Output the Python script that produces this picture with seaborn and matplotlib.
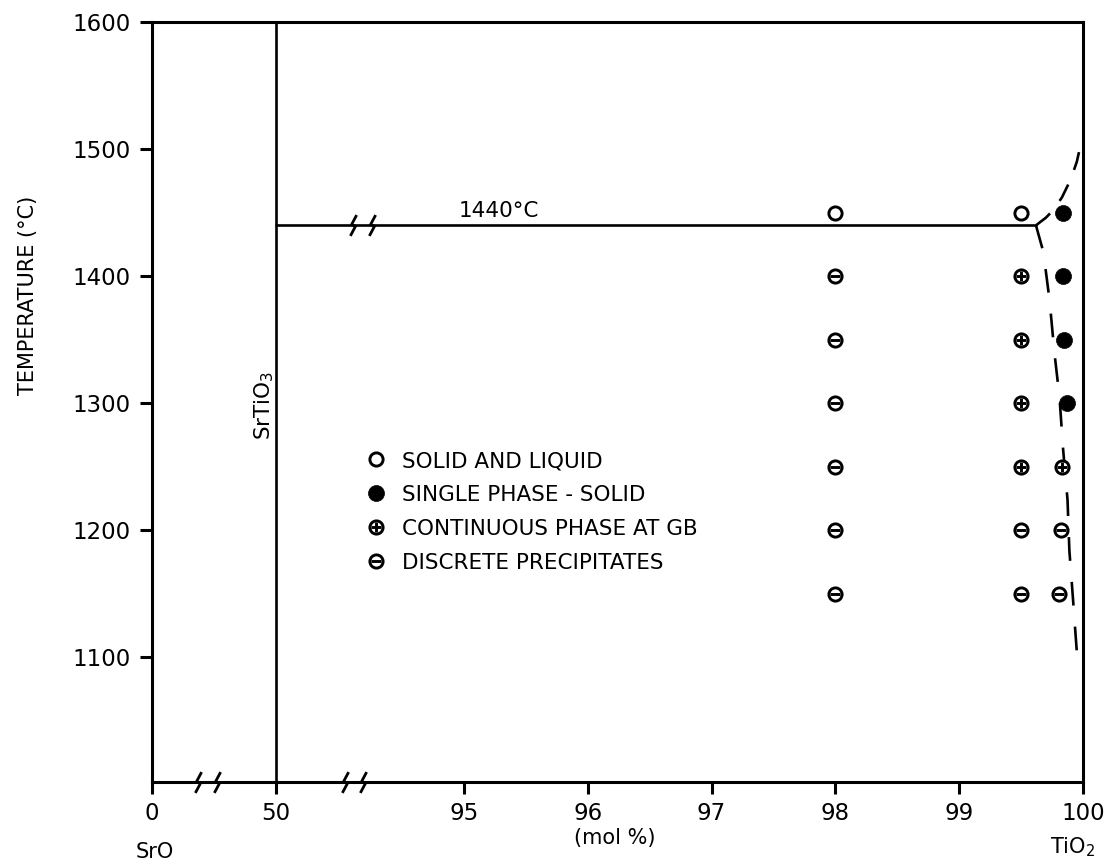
import numpy as np
import pandas as pd
import matplotlib
matplotlib.use("Agg")
import matplotlib.pyplot as plt
import seaborn as sns
from matplotlib.lines import Line2D
from matplotlib.path import Path
from matplotlib.legend_handler import HandlerTuple

# ---------------- data ----------------
# open circles: solid and liquid
sl_x = [98.0, 99.5]
sl_y = [1450, 1450]
# filled circles: single phase - solid
sp_x = [99.84, 99.84, 99.85, 99.87]
sp_y = [1450, 1400, 1350, 1300]
# circle-plus: continuous phase at GB
cp_x = [99.5, 99.5, 99.5, 99.5, 99.83]
cp_y = [1400, 1350, 1300, 1250, 1250]
# circle-minus: discrete precipitates
dp_x = [98.0, 98.0, 98.0, 98.0, 98.0, 98.0, 99.5, 99.5, 99.82, 99.81]
dp_y = [1400, 1350, 1300, 1250, 1200, 1150, 1200, 1150, 1200, 1150]

# eutectic line and phase boundaries
eutectic_T = 1440
eut_x = [50.0, 99.62]
srtio3_x = 50.0
upper_bx = [99.62, 99.70, 99.76, 99.83, 99.90, 99.95, 99.98]
upper_by = [1440, 1446, 1452, 1462, 1476, 1490, 1503]
lower_bx = [99.62, 99.68, 99.73, 99.77, 99.81, 99.84, 99.875, 99.89, 99.92, 99.96]
lower_by = [1440, 1419, 1381, 1339, 1305, 1263, 1224, 1184, 1145, 1091]

x_ticks = [0, 50, 95, 96, 97, 98, 99, 100]
y_ticks = [1100, 1200, 1300, 1400, 1500, 1600]
axis_breaks_x = [18.6, 26.3, 66.6, 70.9]
line_breaks_x = [68.5, 73.1]

legend_labels = ["SOLID AND LIQUID", "SINGLE PHASE - SOLID",
                 "CONTINUOUS PHASE AT GB", "DISCRETE PRECIPITATES"]

# ---------------- style ----------------
sns.set_theme(style="white")
plt.rcParams["font.family"] = ["DejaVu Sans"]
plt.rcParams["mathtext.fontset"] = "dejavusans"

W, H = 1111, 866
fig = plt.figure(figsize=(W / 100, H / 100), dpi=100)
L, R, T, B = 152, 1083, 22, 782
ax = fig.add_axes([L / W, 1 - B / H, (R - L) / W, (B - T) / H])

# broken x scale (piecewise linear)
BP = np.array([0.0, 50.0, 95.0, 100.0])
UP = np.array([0.0, 1.0, 2.52, 7.52])
def fwd(x):
    return np.interp(x, BP, UP)
def inv(u):
    return np.interp(u, UP, BP)
ax.set_xscale("function", functions=(fwd, inv))
ax.set_xlim(0, 100)
ax.set_ylim(1002, 1600)

K = "black"
LW = 1.9

# phase lines
ax.plot([srtio3_x, srtio3_x], [1002, 1600], color=K, lw=LW, solid_capstyle="butt")
ax.plot(eut_x, [eutectic_T, eutectic_T], color=K, lw=LW)
ax.plot(upper_bx, upper_by, color=K, lw=LW, linestyle=(0, (7, 6)))
ax.plot(lower_bx, lower_by, color=K, lw=LW, linestyle=(0, (9, 8)))

# break marks (lightning-like zigzag)
brk = Path([(0.30, 1.0), (-0.20, 0.06), (0.20, -0.06), (-0.30, -1.0)],
           [Path.MOVETO, Path.LINETO, Path.LINETO, Path.LINETO])
ax.plot(axis_breaks_x, [1002] * len(axis_breaks_x), linestyle="none", marker=brk,
        ms=15, mew=2.0, color=K, mfc="none", clip_on=False, zorder=5)
ax.plot(line_breaks_x, [eutectic_T] * len(line_breaks_x), linestyle="none", marker=brk,
        ms=15, mew=2.0, color=K, mfc="none", clip_on=False, zorder=5)

# markers
MS = 9.5
S = MS ** 2
EW = 2.1
sns.scatterplot(x=sl_x, y=sl_y, ax=ax, marker="o", s=S, color="white",
                edgecolor=K, linewidth=EW, zorder=4)
sns.scatterplot(x=sp_x, y=sp_y, ax=ax, marker="o", s=(MS + 2) ** 2, color=K,
                edgecolor=K, linewidth=0.5, zorder=4)
sns.scatterplot(x=cp_x, y=cp_y, ax=ax, marker="o", s=S, color="white",
                edgecolor=K, linewidth=EW, zorder=4)
sns.scatterplot(x=cp_x, y=cp_y, ax=ax, marker="+", s=7.5 ** 2, color=K,
                linewidth=EW, zorder=5)
sns.scatterplot(x=dp_x, y=dp_y, ax=ax, marker="o", s=S, color="white",
                edgecolor=K, linewidth=EW, zorder=4)
sns.scatterplot(x=dp_x, y=dp_y, ax=ax, marker="_", s=7.5 ** 2, color=K,
                linewidth=EW, zorder=5)

# axes styling
for sp in ax.spines.values():
    sp.set_visible(True)
    sp.set_color(K)
    sp.set_linewidth(2.2)
ax.set_xticks(x_ticks)
ax.set_xticklabels([str(v) for v in x_ticks])
ax.set_yticks(y_ticks)
ax.set_yticklabels([str(v) for v in y_ticks])
ax.minorticks_off()
ax.tick_params(axis="both", which="major", direction="out", length=8.5, width=2.2,
               color=K, labelsize=16.5, labelcolor=K)
ax.tick_params(axis="y", pad=7)
ax.tick_params(axis="x", pad=6)
ax.tick_params(bottom=True, left=True, top=False, right=False)
ax.grid(False)
ax.set_xlabel("")
ax.set_ylabel("")

# texts
ax.text(93.7, 1451, "1440°C", fontsize=15.5, color=K, ha="left", va="center")
fig.text(264 / W, 1 - 405 / H, "SrTiO$_3$", rotation=90, fontsize=15.5,
         ha="center", va="center", color=K)
fig.text(28 / W, 1 - 295 / H, "TEMPERATURE (°C)", rotation=90, fontsize=15,
         ha="center", va="center", color=K)
fig.text(615 / W, 1 - 838 / H, "(mol %)", fontsize=15, ha="center", va="center", color=K)
fig.text(155 / W, 1 - 852 / H, "SrO", fontsize=15, ha="center", va="center", color=K)
fig.text(1073 / W, 1 - 847 / H, "TiO$_2$", fontsize=15, ha="center", va="center", color=K)

# legend
h_open = Line2D([], [], marker="o", ls="none", ms=MS, mfc="white", mec=K, mew=EW)
h_fill = Line2D([], [], marker="o", ls="none", ms=MS + 2, mfc=K, mec=K, mew=0.5)
h_plus = Line2D([], [], marker="+", ls="none", ms=7.5, mec=K, mew=EW)
h_minus = Line2D([], [], marker="_", ls="none", ms=7.5, mec=K, mew=EW)
handles = [h_open, h_fill, (h_open, h_plus), (h_open, h_minus)]
leg = fig.legend(handles, legend_labels, loc="upper left",
                 bbox_to_anchor=(367 / W, 1 - 451 / H), bbox_transform=fig.transFigure,
                 frameon=False, fontsize=15.5, borderpad=0, borderaxespad=0,
                 handlelength=0.8, handletextpad=0.82, labelspacing=0.65,
                 handler_map={tuple: HandlerTuple(ndivide=1, pad=0)})
for t in leg.get_texts():
    t.set_color(K)

fig.savefig("out.png", dpi=100, facecolor="white")
